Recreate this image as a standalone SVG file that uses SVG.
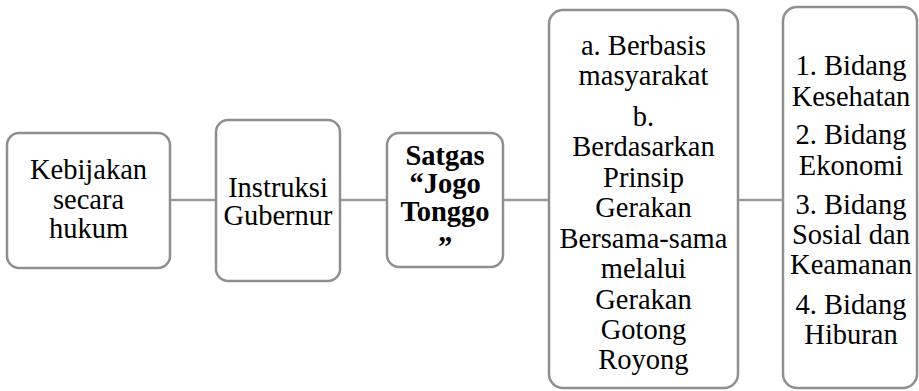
<svg xmlns="http://www.w3.org/2000/svg" width="919" height="391" viewBox="0 0 919 391">
<style>
.box{fill:#fff;stroke:#8f8f8f;stroke-width:2.5}
.t{font-family:'Liberation Serif','Times New Roman',serif;font-size:28.5px;fill:#000;text-anchor:middle}
.b{font-weight:bold}
.c{stroke:#9a9a9a;stroke-width:2.5;fill:none}
</style>
<rect width="919" height="391" fill="#fff"/>
<g id="connectors">
<line class="c" x1="170" y1="200" x2="216" y2="200"/>
<line class="c" x1="340" y1="200" x2="387" y2="200"/>
<line class="c" x1="503" y1="200" x2="549" y2="200"/>
<line class="c" x1="738" y1="200" x2="783" y2="200"/>
</g>
<g id="node1">
<rect class="box" x="7" y="133" width="163" height="135" rx="12"/>
<text class="t"><tspan x="88.5" y="179">Kebijakan</tspan><tspan x="88.5" y="209">secara</tspan><tspan x="88.5" y="238">hukum</tspan></text>
</g>
<g id="node2">
<rect class="box" x="216" y="120" width="124" height="161" rx="12"/>
<text class="t"><tspan x="278" y="197">Instruksi</tspan><tspan x="278" y="225">Gubernur</tspan></text>
</g>
<g id="node3">
<rect class="box" x="387" y="133" width="116" height="134" rx="12"/>
<text class="t b"><tspan x="445" y="165">Satgas</tspan><tspan x="445" y="193">“Jogo</tspan><tspan x="445" y="221">Tonggo</tspan><tspan x="445" y="256">”</tspan></text>
</g>
<g id="node4">
<rect class="box" x="549" y="10" width="189" height="378" rx="14"/>
<text class="t"><tspan x="643.5" y="55">a. Berbasis</tspan><tspan x="643.5" y="85">masyarakat</tspan><tspan x="643.5" y="126">b.</tspan><tspan x="643.5" y="156">Berdasarkan</tspan><tspan x="643.5" y="186.5">Prinsip</tspan><tspan x="643.5" y="217">Gerakan</tspan><tspan x="643.5" y="247.5">Bersama-sama</tspan><tspan x="643.5" y="278">melalui</tspan><tspan x="643.5" y="308.5">Gerakan</tspan><tspan x="643.5" y="339">Gotong</tspan><tspan x="643.5" y="369">Royong</tspan></text>
</g>
<g id="node5">
<rect class="box" x="783" y="7" width="134" height="381" rx="14"/>
<text class="t"><tspan x="851" y="75">1. Bidang</tspan><tspan x="851" y="106">Kesehatan</tspan><tspan x="851" y="144">2. Bidang</tspan><tspan x="851" y="175">Ekonomi</tspan><tspan x="851" y="214">3. Bidang</tspan><tspan x="851" y="244">Sosial dan</tspan><tspan x="851" y="274">Keamanan</tspan><tspan x="851" y="314">4. Bidang</tspan><tspan x="851" y="344">Hiburan</tspan></text>
</g>
</svg>
